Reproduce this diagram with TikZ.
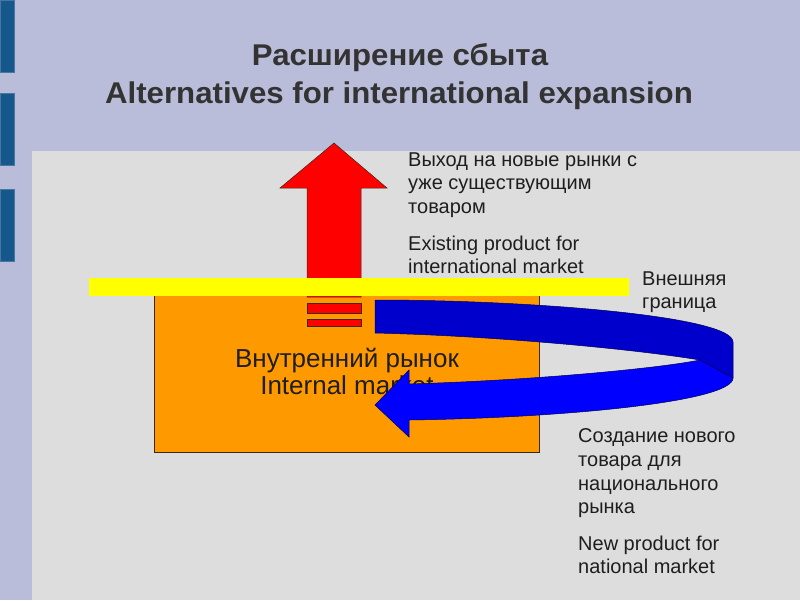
\documentclass[tikz,border=0pt]{standalone}
\usepackage{fontspec}
\setmainfont{Liberation Sans}
\newfontfamily\headfont[FakeStretch=1.04]{Liberation Sans}
\begin{document}
\begin{tikzpicture}[x=1pt,y=-1pt,
  txt/.style={anchor=base west,inner sep=0pt,text=textcolor,font=\fontsize{20}{23.5}\selectfont},
  ttl/.style={anchor=base,inner sep=0pt,text=titlecolor,font=\fontsize{30}{37}\headfont\bfseries},
  edge/.style={draw=linecolor,line width=0.5pt}]
\definecolor{bgcolor}{RGB}{185,189,217}
\definecolor{barcolor}{RGB}{22,88,140}
\definecolor{panelcolor}{RGB}{221,221,221}
\definecolor{titlecolor}{RGB}{51,51,51}
\definecolor{textcolor}{RGB}{30,30,30}
\definecolor{orangecolor}{RGB}{255,153,0}
\definecolor{redcolor}{RGB}{255,0,0}
\definecolor{yellowcolor}{RGB}{255,255,0}
\definecolor{darkblue}{RGB}{0,0,204}
\definecolor{lightblue}{RGB}{0,0,255}
\definecolor{linecolor}{RGB}{60,40,20}
\useasboundingbox (0,0) rectangle (800,600);
\fill [bgcolor] (0,0) rectangle (800,600);
\fill [barcolor,draw=barcolor!70!bgcolor] (0,0) rectangle (14,72);
\fill [barcolor,draw=barcolor!70!bgcolor] (0,93) rectangle (14,165);
\fill [barcolor,draw=barcolor!70!bgcolor] (0,189) rectangle (14,261);
\fill [panelcolor] (32,151) rectangle (800,600);
\node [ttl] (t1) at (400,65) {Расширение сбыта};
\node [ttl] (t2) at (399,103) {Alternatives for international expansion};
% inner market box
\draw [edge,fill=orangecolor] (154,280) rectangle (539,452);
\node [anchor=base,inner sep=0pt,text=textcolor,font=\fontsize{26}{27}\selectfont] (m1) at (347,367) {Внутренний рынок};
\node [anchor=base,inner sep=0pt,text=textcolor,font=\fontsize{26}{27}\selectfont] (m2) at (347,394) {Internal market};
% red arrow
\draw [edge,fill=redcolor] (307,297) -- (307,188) -- (280,188) -- (334,143) -- (387,188) -- (361,188) -- (361,297) -- cycle;
\draw [edge,fill=redcolor] (307,303) rectangle (361,313);
\draw [edge,fill=redcolor] (307,319) rectangle (361,326);
\fill [yellowcolor] (89,278) rectangle (629,296);
% blue arrow
\draw [draw=darkblue!40!black,line width=0.5pt,fill=darkblue] (375,300) .. controls (530,300) and (733,316) .. (733,342) -- (733,378) -- (700,360) .. controls (640,350) and (500,336) .. (375,333) -- cycle;
\draw [draw=darkblue!40!black,line width=0.5pt,fill=lightblue] (700,360) -- (733,378) .. controls (733,402) and (560,418) .. (409,420) -- (409,437) -- (375,405) -- (409,370) -- (409,384) .. controls (540,380) and (660,368) .. (700,360) -- cycle;
% texts
\node [txt] (a1) at (408,166) {Выход на новые рынки с};
\node [txt] (a2) at (408,189.5) {уже существующим};
\node [txt] (a3) at (408,213) {товаром};
\node [txt] (a4) at (408,250) {Existing product for};
\node [txt] (a5) at (408,273.5) {international market};
\node [txt] (b1) at (642,285) {Внешняя};
\node [txt] (b2) at (642,308) {граница};
\node [txt] (c1) at (578,442) {Создание нового};
\node [txt] (c2) at (578,466) {товара для};
\node [txt] (c3) at (578,490) {национального};
\node [txt] (c4) at (578,513) {рынка};
\node [txt] (c5) at (578,550) {New product for};
\node [txt] (c6) at (578,573) {national market};
\end{tikzpicture}
\end{document}
